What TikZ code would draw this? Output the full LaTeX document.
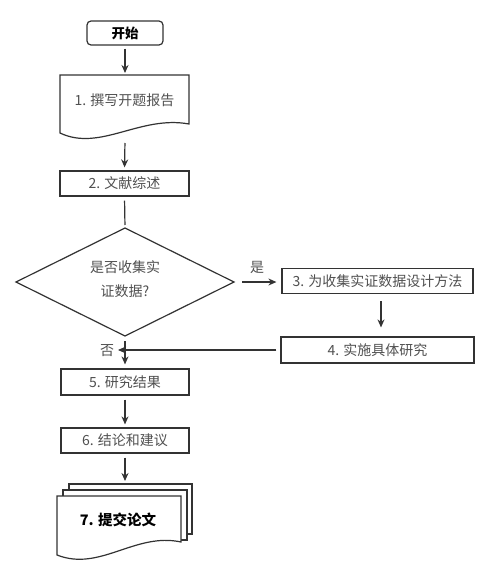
\documentclass[tikz,border=0pt]{standalone}
\usepackage{fontspec}
\setmainfont{Noto Sans CJK SC}
\usetikzlibrary{shapes.geometric,arrows.meta}
\definecolor{lc}{HTML}{333333}
\definecolor{tc}{HTML}{505050}
\begin{document}
\begin{tikzpicture}[x=1pt,y=-1pt,
  every node/.style={font=\fontsize{14}{18}\selectfont, text=tc},
  box/.style={draw=lc, line width=1.2pt, fill=white, inner sep=0pt, minimum height=25pt},
  shp/.style={draw=lc, line width=1.2pt, fill=white},
  arr/.style={draw=lc, line width=1.2pt, -{Stealth[length=8pt,width=7pt]}},
  ln/.style={draw=lc, line width=1.2pt}]
\useasboundingbox (0,0) rectangle (500,573);
% start
\node[box, rounded corners=4pt, minimum width=76pt, minimum height=24pt, text=black,
  font=\fontsize{13.5}{16}\selectfont\bfseries] (start) at (125,33) {开始};
% doc 1
\draw[shp] (60,75) -- (189,75) -- (189,124) .. controls (140,115) and (100,152) .. (60,133) -- cycle;
\node (d1) at (124.5,100) {1. 撰写开题报告};
\coordinate (d1top) at (125,75);
\coordinate (d1bot) at (125,140);
% box 2
\node[box, minimum width=129pt] (b2) at (124.5,183.5) {2. 文献综述};
% diamond
\coordinate (dtop) at (125,228);
\coordinate (dbot) at (125,336);
\coordinate (dleft) at (16,282);
\coordinate (dright) at (234,282);
\draw[shp] (dtop) -- (dright) -- (dbot) -- (dleft) -- cycle;
\node[align=center, font=\fontsize{14}{24}\selectfont] (dia) at (125,279) {是否收集实\\证数据?};
% box 3, 4
\node[box, minimum width=191pt] (b3) at (377.5,281) {3. 为收集实证数据设计方法};
\node[box, minimum width=193pt, minimum height=26pt] (b4) at (377.5,350) {4. 实施具体研究};
% box 5, 6
\node[box, minimum width=128pt, minimum height=26pt] (b5) at (125,382) {5. 研究结果};
\node[box, minimum width=128pt] (b6) at (125,440.5) {6. 结论和建议};
% stacked documents
\draw[shp] (69,484) rectangle (192,534);
\draw[shp] (63,490) rectangle (187,540);
\draw[shp] (57,496) -- (181,496) -- (181,542) .. controls (135,532) and (100,572) .. (57,555) -- cycle;
\node[text=black, font=\fontsize{14.5}{16}\selectfont\bfseries] (d7) at (118,520) {7. 提交论文};
\coordinate (d7top) at (125,484);
% labels
\node (yes) at (257,267) {是};
\node (no) at (107,351) {否};
% connectors
\draw[arr, shorten <=3pt, shorten >=2pt] (start.south) -- (d1top);
\draw[arr, shorten <=3pt, shorten >=3pt] (d1bot) -- (b2.north);
\draw[ln, shorten <=4pt, shorten >=3pt] (b2.south) -- (dtop);
\draw[arr, shorten <=8pt, shorten >=5pt] (dright) -- (dright -| b3.west);
\draw[arr, shorten <=7pt, shorten >=9pt] ([xshift=3.5pt]b3.south) -- ([xshift=3.5pt]b4.north);
\draw[arr, shorten <=4pt, shorten >=-7pt] (b4.west) -- (b4.west -| dbot);
\draw[arr, shorten <=5pt, shorten >=4pt] (dbot) -- (b5.north);
\draw[arr, shorten <=4pt, shorten >=3pt] (b5.south) -- (b6.north);
\draw[arr, shorten <=4pt, shorten >=3pt] (b6.south) -- (d7top);
\end{tikzpicture}
\end{document}
